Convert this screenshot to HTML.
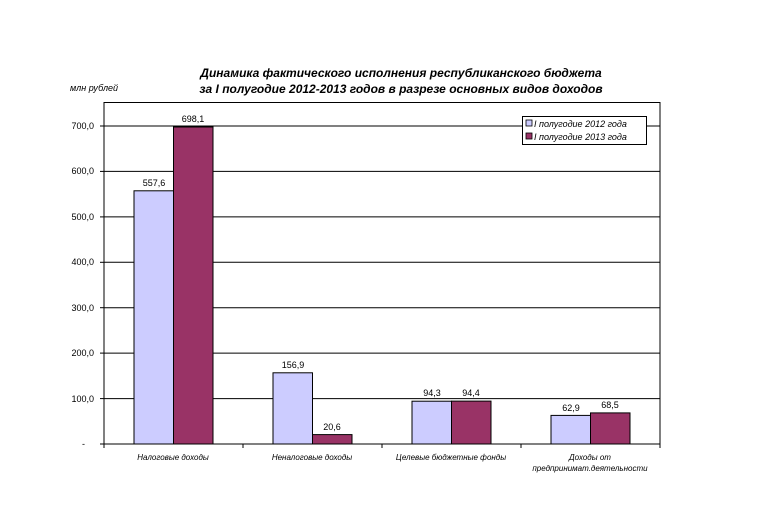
<!DOCTYPE html>
<html><head><meta charset="utf-8"><style>
body{margin:0;background:#fff;}
svg{display:block;font-family:"Liberation Sans",Arial,sans-serif;}
</style></head><body>
<svg width="765" height="509" viewBox="0 0 765 509">
<rect width="765" height="509" fill="#fff"/>
<g font-weight="bold" font-style="italic" font-size="12" text-anchor="middle" fill="#000">
<text x="401" y="77">Динамика фактического исполнения республиканского бюджета</text>
<text x="401" y="93">за I полугодие 2012-2013 годов в разрезе основных видов доходов</text>
</g>
<text x="70" y="91" font-size="9" font-style="italic">млн рублей</text>
<rect x="104" y="102.5" width="556" height="341.5" fill="#fff" stroke="#000" stroke-width="1"/>
<g stroke="#000" stroke-width="1">
<line x1="104" y1="126" x2="660" y2="126"/>
<line x1="104" y1="171.4" x2="660" y2="171.4"/>
<line x1="104" y1="216.9" x2="660" y2="216.9"/>
<line x1="104" y1="262.3" x2="660" y2="262.3"/>
<line x1="104" y1="307.7" x2="660" y2="307.7"/>
<line x1="104" y1="353.1" x2="660" y2="353.1"/>
<line x1="104" y1="398.6" x2="660" y2="398.6"/>
<line x1="100" y1="126" x2="104" y2="126"/><line x1="100" y1="171.4" x2="104" y2="171.4"/>
<line x1="100" y1="216.9" x2="104" y2="216.9"/><line x1="100" y1="262.3" x2="104" y2="262.3"/>
<line x1="100" y1="307.7" x2="104" y2="307.7"/><line x1="100" y1="353.1" x2="104" y2="353.1"/>
<line x1="100" y1="398.6" x2="104" y2="398.6"/><line x1="100" y1="444" x2="104" y2="444"/>
<line x1="104" y1="444" x2="104" y2="448"/><line x1="243" y1="444" x2="243" y2="448"/>
<line x1="382" y1="444" x2="382" y2="448"/><line x1="521" y1="444" x2="521" y2="448"/>
<line x1="660" y1="444" x2="660" y2="448"/>
</g>
<g font-size="9" text-anchor="end">
<text x="94" y="129">700,0</text><text x="94" y="174">600,0</text><text x="94" y="220">500,0</text>
<text x="94" y="265">400,0</text><text x="94" y="311">300,0</text><text x="94" y="356">200,0</text>
<text x="94" y="402">100,0</text><text x="85" y="447">-</text>
</g>
<g stroke="#000" stroke-width="1">
<rect x="134" y="190.8" width="39.5" height="253.2" fill="#ccccff"/>
<rect x="173.5" y="127" width="39.5" height="317" fill="#993366"/>
<rect x="273" y="372.8" width="39.5" height="71.2" fill="#ccccff"/>
<rect x="312.5" y="434.6" width="39.5" height="9.4" fill="#993366"/>
<rect x="412" y="401.2" width="39.5" height="42.8" fill="#ccccff"/>
<rect x="451.5" y="401.1" width="39.5" height="42.9" fill="#993366"/>
<rect x="551" y="415.4" width="39.5" height="28.6" fill="#ccccff"/>
<rect x="590.5" y="412.9" width="39.5" height="31.1" fill="#993366"/>
</g>
<g font-size="9" text-anchor="middle">
<text x="154" y="186">557,6</text><text x="193" y="122">698,1</text>
<text x="293" y="368">156,9</text><text x="332" y="430">20,6</text>
<text x="432" y="396">94,3</text><text x="471" y="396">94,4</text>
<text x="571" y="411">62,9</text><text x="610" y="408">68,5</text>
</g>
<g font-size="8" font-style="italic" text-anchor="middle">
<text x="173" y="460">Налоговые доходы</text>
<text x="312" y="460">Неналоговые доходы</text>
<text x="451" y="460">Целевые бюджетные фонды</text>
<text x="590" y="460">Доходы от</text>
<text x="590" y="471">предпринимат.деятельности</text>
</g>
<rect x="522.5" y="116.5" width="124" height="28" fill="#fff" stroke="#000"/>
<rect x="526" y="120" width="6" height="6" fill="#ccccff" stroke="#000" stroke-width="0.8"/>
<rect x="526" y="133" width="6" height="6" fill="#993366" stroke="#000" stroke-width="0.8"/>
<g font-size="9" font-style="italic">
<text x="534" y="127">I полугодие 2012 года</text>
<text x="534" y="140">I полугодие 2013 года</text>
</g>
</svg>
</body></html>
